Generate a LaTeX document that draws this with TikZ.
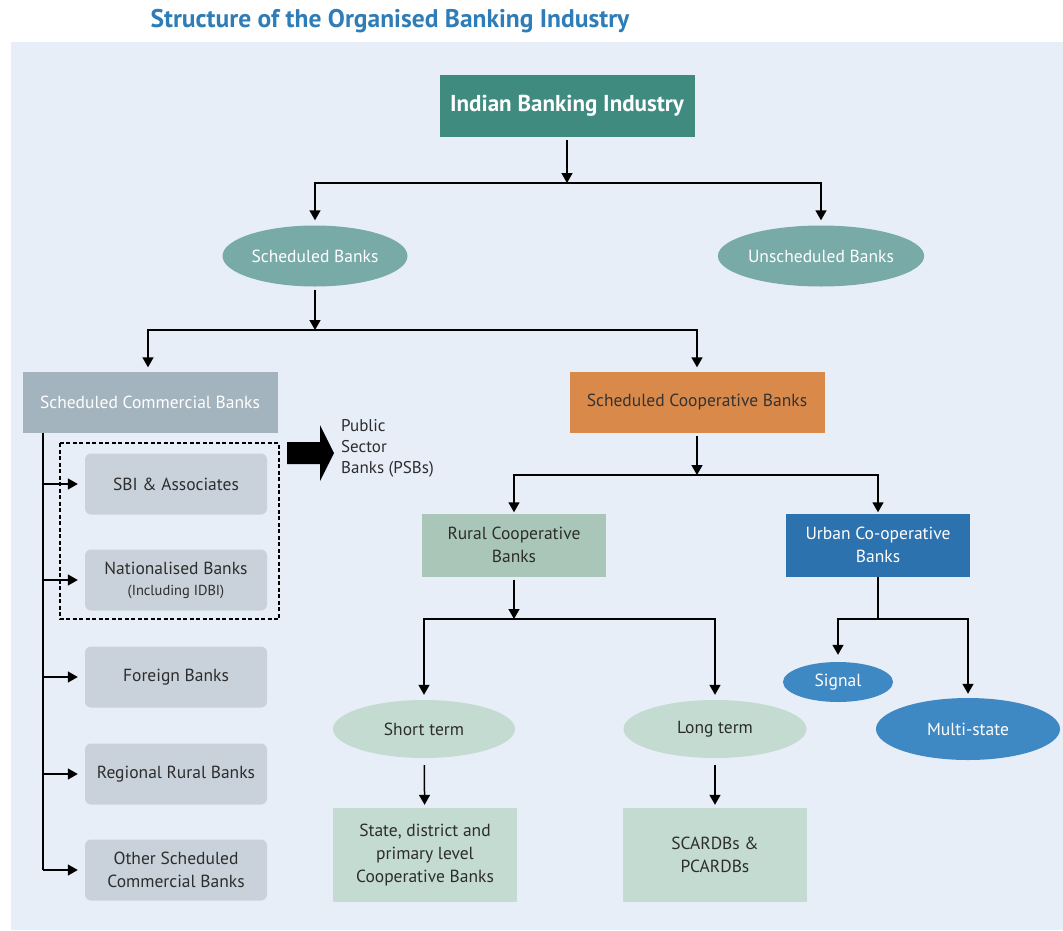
\documentclass[tikz,border=0pt]{standalone}
\usepackage{fontspec}
\setmainfont{PT Sans}
\usetikzlibrary{arrows.meta,shapes.geometric}

\definecolor{panelbg}{RGB}{232,238,248}
\definecolor{titleblue}{RGB}{46,125,184}
\definecolor{tealdark}{RGB}{64,139,128}
\definecolor{tealmid}{RGB}{120,170,167}
\definecolor{scbgrey}{RGB}{164,180,190}
\definecolor{boxgrey}{RGB}{201,210,218}
\definecolor{coopamber}{RGB}{217,137,74}
\definecolor{sage}{RGB}{169,198,185}
\definecolor{sagelight}{RGB}{196,219,209}
\definecolor{urbanblue}{RGB}{44,114,174}
\definecolor{ucbblue}{RGB}{62,136,196}
\definecolor{textdark}{RGB}{45,45,45}

\begin{document}
\begin{tikzpicture}[x=1pt,y=-1pt,
    arr/.style={-{Triangle[length=10pt,width=11pt]},line width=1.5pt},
    bar/.style={line width=1.5pt},
    lbl/.style={font=\fontsize{17.5}{23}\selectfont,text=textdark,align=center,inner sep=0pt},
    sqbox/.style={lbl,rectangle,minimum width=184pt,minimum height=63pt},
    rbox/.style={lbl,rectangle,rounded corners=6pt,fill=boxgrey,minimum width=182pt,minimum height=61pt},
    oval/.style={lbl,ellipse,minimum width=184pt,minimum height=60pt}]
	% Rahmen und Hintergrundflaeche
	\useasboundingbox (0,0) rectangle (1063,930);
	\fill[white] (0,0) rectangle (1063,930);
	\fill[panelbg] (11,42) rectangle (1063,930);

	\node[font=\fontsize{25.5}{30}\selectfont\bfseries, text=titleblue] (title) at (390,21) {Structure of the Organised Banking Industry};

	% obere Ebenen
	\node[sqbox, fill=tealdark, text=white, minimum width=255pt, minimum height=62pt,
	      font=\fontsize{23}{27}\selectfont\bfseries] (ibi) at (567,106) {Indian Banking Industry};
	\node[oval, fill=tealmid, text=white, minimum width=185pt, minimum height=61pt] (sb)  at (315,256) {Scheduled Banks};
	\node[oval, fill=tealmid, text=white, minimum width=183pt, minimum height=61pt] (usb) at (821,256) {Unscheduled Banks};

	\node[sqbox, fill=scbgrey, text=white, minimum width=255pt, minimum height=61pt] (scb)  at (150,402) {Scheduled Commercial Banks};
	\node[sqbox, fill=coopamber, text=black!80, minimum width=255pt, minimum height=61pt] (scob) at (697,402) {Scheduled Cooperative Banks};

	% Geschaeftsbanken (linke Spalte)
	\node[rbox] (sbi) at (176,484) {SBI \& Associates};
	\node[rbox] (nat) at (176,580) {Nationalised Banks\\[-2pt]{\fontsize{14.5}{18}\selectfont (Including IDBI)}};
	\node[rbox] (frb) at (176,677) {Foreign Banks};
	\node[rbox] (rrb) at (176,774) {Regional Rural Banks};
	\node[rbox] (osc) at (176,870) {Other Scheduled\\Commercial Banks};

	% PSB-Rahmen mit Blockpfeil
	\draw[dashed, line width=1.3pt, dash pattern=on 4pt off 2.5pt] (60,443) rectangle (279,619);
	\fill[black] (287,442) -- (320,442) -- (320,425) -- (334,453) -- (320,481) -- (320,464) -- (287,464) -- cycle;
	\node[lbl, anchor=north west, align=left, font=\fontsize{17}{21}\selectfont] (psb) at (341,419) {Public\\Sector\\Banks (PSBs)};

	% Genossenschaftsbanken
	\node[sqbox, fill=sage] (rcb) at (514,545) {Rural Cooperative\\Banks};
	\node[sqbox, fill=urbanblue, text=white] (ucb) at (878,545) {Urban Co-operative\\Banks};

	\node[oval, fill=sagelight, minimum width=182pt, minimum height=58pt] (st) at (424,729) {Short term};
	\node[oval, fill=sagelight, minimum width=183pt, minimum height=58pt] (lt) at (715,729) {Long term};
	\node[oval, fill=ucbblue, text=white, minimum width=110pt, minimum height=40pt] (sig) at (838,682) {Signal};
	\node[oval, fill=ucbblue, text=white, minimum width=184pt, minimum height=62pt] (ms)  at (968,729) {Multi-state};

	\node[sqbox, fill=sagelight, minimum height=94pt] (sdp)   at (425,855) {State, district and\\primary level\\Cooperative Banks};
	\node[sqbox, fill=sagelight, minimum height=94pt] (scard) at (715,855) {SCARDBs \&\\PCARDBs};

	% Verzweigungspunkte
	\coordinate (j1) at (567,183);
	\coordinate (j2) at (315,330);
	\coordinate (j3) at (697,475);
	\coordinate (j4) at (514,619);
	\coordinate (j5) at (878,619);
	\coordinate (sp) at (43,433);
	\coordinate (spend) at (43,870);

	% Verbindungen
	\draw[arr, shorten <=3pt] (ibi) -- (j1);
	\draw[arr, shorten >=5pt] (j1) -| (sb);
	\draw[arr, shorten >=5pt] (j1) -| (usb);
	\draw[arr, shorten <=3pt] (sb) -- (j2);
	\draw[arr, shorten >=4pt] (j2) -| ([xshift=-2pt]scb.north);
	\draw[arr, shorten >=4pt] (j2) -| (scob);

	\draw[bar] (sp) -- (spend);
	\foreach \b in {sbi,nat,frb,rrb,osc}
		\draw[arr, shorten >=7pt] (sp |- \b) -- (\b);

	\draw[arr, shorten <=3pt] (scob) -- (j3);
	\draw[arr, shorten >=1pt] (j3) -| (rcb);
	\draw[arr, shorten >=1pt] (j3) -| (ucb);
	\draw[arr, shorten <=3pt] (rcb) -- (j4);
	\draw[arr, shorten >=5pt] (j4) -| (st);
	\draw[arr, shorten >=5pt] (j4) -| (lt);
	\draw[bar] (ucb) -- (j5);
	\draw[arr, shorten >=7pt] (j5) -| (sig);
	\draw[arr, shorten >=4pt] (j5) -| (ms);
	\draw[arr, shorten <=7pt, shorten >=3pt] (st) -- (sdp);
	\draw[arr, shorten <=7pt, shorten >=3pt] (lt) -- (scard);
\end{tikzpicture}
\end{document}
